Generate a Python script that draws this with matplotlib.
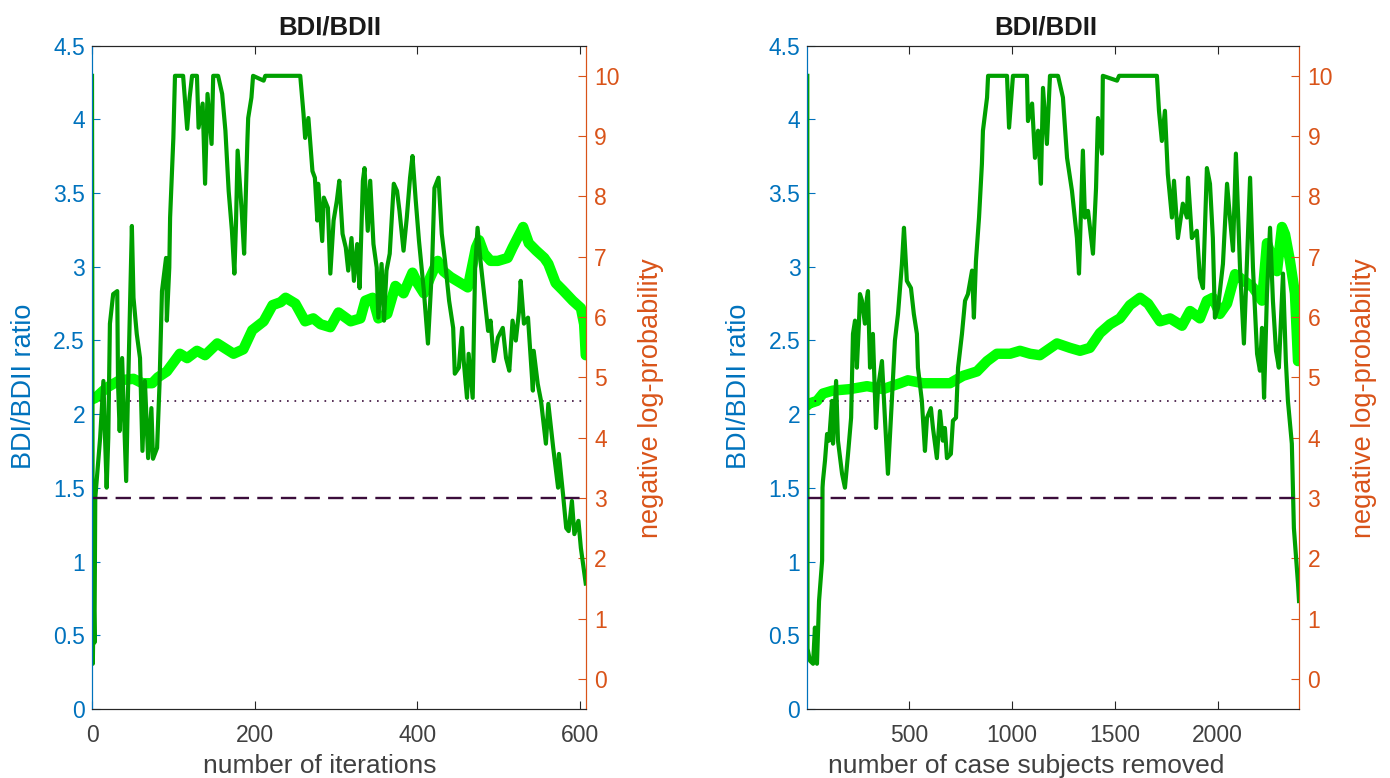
import numpy as np
import matplotlib
matplotlib.use("Agg")
import matplotlib.pyplot as plt

plt.rcParams['font.family'] = ['Liberation Sans', 'DejaVu Sans']

# left panel: x = number of iterations
iter_x_neglogp = [0, 1, 2, 3, 4, 7, 10, 14, 16, 18, 20, 22, 26, 31, 32, 34, 37, 42, 44, 49,
                  51, 55, 59, 62, 65, 69, 73, 75, 80, 83, 86, 91, 92, 95, 96, 100, 102, 108,
                  112, 117, 120, 123, 129, 131, 136, 139, 142, 147, 149, 155, 160, 164, 168,
                  172, 175, 177, 179, 184, 187, 191, 192, 196, 198, 211, 213, 256, 260, 262,
                  266, 271, 274, 277, 278, 283, 285, 290, 293, 297, 301, 304, 308, 312, 315,
                  319, 322, 326, 329, 333, 335, 339, 342, 346, 350, 352, 356, 359, 362, 366,
                  371, 375, 378, 383, 387, 391, 394, 398, 402, 408, 413, 418, 421, 426, 430,
                  434, 439, 444, 446, 451, 455, 457, 461, 463, 468, 471, 474, 478, 487, 490,
                  494, 499, 505, 509, 513, 517, 521, 525, 527, 531, 536, 542, 543, 548, 552,
                  558, 561, 567, 573, 574, 579, 583, 586, 590, 593, 598, 601, 607]
iter_neglogp = [10, 0.25, 1.4, 0.6, 3.0, 3.5, 4.0, 4.94, 4.0, 3.17, 4.0, 5.89, 6.38, 6.43, 4.89,
                4.11, 5.32, 3.28, 4.61, 7.51, 6.32, 5.72, 5.32, 3.78, 4.94, 3.66, 4.49, 3.65,
                3.83, 4.89, 6.43, 6.98, 5.94, 6.82, 7.65, 8.97, 10, 10, 10, 9.12, 9.64, 10, 10,
                9.14, 9.54, 8.21, 9.70, 8.87, 10, 10, 9.70, 9.09, 8.09, 7.43, 6.72, 7.55, 8.76,
                7.76, 7.05, 8.92, 9.30, 9.64, 10, 9.92, 10, 10, 9.37, 8.97, 9.30, 8.42, 8.31,
                7.60, 8.21, 7.26, 7.98, 7.81, 6.72, 7.60, 7.93, 8.26, 7.38, 7.15, 6.77, 7.31,
                6.60, 7.21, 6.48, 8.26, 8.47, 7.43, 8.26, 7.21, 6.82, 5.99, 6.88, 5.94, 6.77,
                7.05, 8.21, 8.09, 7.76, 7.10, 7.65, 8.31, 8.67, 7.93, 7.26, 6.43, 5.56, 6.82,
                8.14, 8.31, 7.38, 6.93, 6.27, 5.82, 5.06, 5.16, 5.82, 5.27, 4.66, 5.39, 4.66,
                6.82, 7.48, 6.88, 5.77, 5.94, 5.27, 5.66, 5.82, 5.32, 5.11, 5.94, 5.61, 6.10,
                6.60, 5.89, 5.99, 4.78, 5.44, 4.89, 4.61, 3.90, 4.56, 3.83, 3.17, 3.73, 3.07,
                2.50, 2.45, 2.95, 2.40, 2.62, 2.17, 1.58]
iter_x_ratio = [0, 4, 18, 34, 51, 62, 74, 81, 92, 108, 117, 129, 139, 154, 174, 186, 197, 211,
                222, 232, 238, 250, 262, 272, 281, 293, 303, 318, 330, 336, 345, 352, 363, 373,
                383, 394, 400, 408, 416, 425, 432, 441, 453, 462, 472, 476, 482, 490, 499, 511,
                517, 530, 537, 546, 556, 561, 570, 579, 591, 601, 605, 607]
iter_ratio = [2.10, 2.11, 2.18, 2.23, 2.24, 2.21, 2.21, 2.25, 2.29, 2.41, 2.38, 2.43, 2.40, 2.48,
              2.41, 2.44, 2.57, 2.63, 2.74, 2.76, 2.79, 2.75, 2.63, 2.65, 2.61, 2.59, 2.69, 2.63,
              2.65, 2.77, 2.79, 2.65, 2.68, 2.87, 2.82, 2.96, 2.89, 2.82, 2.93, 3.04, 2.97, 2.93,
              2.89, 2.86, 3.13, 3.18, 3.09, 3.04, 3.04, 3.06, 3.13, 3.27, 3.16, 3.11, 3.06, 3.02,
              2.89, 2.84, 2.77, 2.72, 2.61, 2.40]

# right panel: x = number of case subjects removed
rem_x_neglogp = [4, 5, 17, 32, 41, 51, 61, 76, 78, 80, 90, 100, 110, 124, 129, 144, 153, 173,
                 187, 202, 217, 226, 236, 245, 255, 260, 270, 284, 294, 299, 309, 323, 338, 348,
                 367, 382, 396, 415, 430, 445, 464, 474, 488, 508, 522, 537, 542, 561, 576, 586,
                 605, 615, 634, 649, 663, 673, 683, 702, 712, 727, 737, 756, 771, 785, 805, 814,
                 824, 839, 853, 858, 878, 883, 975, 985, 1004, 1072, 1077, 1097, 1111, 1126,
                 1140, 1150, 1169, 1184, 1223, 1247, 1267, 1291, 1315, 1325, 1344, 1354, 1369,
                 1393, 1408, 1417, 1437, 1441, 1510, 1520, 1704, 1714, 1728, 1743, 1757, 1777,
                 1787, 1806, 1830, 1850, 1855, 1874, 1898, 1913, 1928, 1947, 1962, 1976, 1986,
                 2001, 2025, 2045, 2059, 2074, 2088, 2108, 2127, 2142, 2157, 2171, 2191, 2205,
                 2215, 2225, 2239, 2254, 2268, 2283, 2297, 2317, 2331, 2341, 2360, 2370, 2390,
                 2395]
rem_neglogp = [10, 0.5, 0.30, 0.25, 0.85, 0.25, 1.29, 1.96, 3.17, 3.28, 3.62, 4.06, 3.95, 4.61,
               3.90, 4.94, 3.95, 3.40, 3.17, 3.73, 4.33, 5.72, 5.94, 5.16, 5.89, 6.38, 6.27, 5.89,
               6.32, 6.43, 5.16, 5.72, 4.16, 4.83, 5.27, 4.28, 3.40, 4.61, 5.61, 6.05, 6.88, 7.48,
               6.60, 6.48, 6.05, 5.72, 5.16, 4.61, 3.78, 4.33, 4.49, 4.16, 3.66, 4.44, 3.95, 4.16,
               3.66, 3.73, 4.28, 4.33, 5.16, 5.72, 6.27, 6.38, 6.77, 5.99, 6.93, 7.65, 8.54, 9.09,
               9.64, 10, 10, 9.14, 10, 10, 9.25, 9.54, 8.64, 9.09, 8.21, 9.80, 8.87, 10, 10, 9.64,
               8.64, 8.09, 7.31, 6.72, 8.76, 7.65, 7.76, 7.05, 8.14, 9.30, 8.71, 10, 9.92, 10, 10,
               9.42, 8.92, 9.42, 8.37, 7.65, 8.26, 7.31, 7.88, 7.65, 8.31, 7.31, 7.43, 6.65, 6.48,
               8.47, 8.21, 7.31, 5.99, 6.15, 6.88, 8.21, 7.65, 7.10, 8.71, 6.82, 5.56, 6.93, 8.31,
               6.82, 5.39, 5.11, 5.82, 4.66, 6.38, 7.48, 6.27, 5.44, 5.16, 6.72, 5.27, 4.61, 3.90,
               2.50, 1.58, 1.29]
rem_x_ratio = [4, 8, 51, 80, 128, 211, 294, 372, 455, 493, 566, 634, 698, 761, 829, 878, 926,
               990, 1038, 1087, 1135, 1218, 1281, 1330, 1378, 1427, 1476, 1524, 1573, 1622, 1661,
               1719, 1768, 1826, 1865, 1913, 1947, 1976, 2010, 2045, 2084, 2123, 2171, 2215, 2239,
               2288, 2312, 2327, 2351, 2375, 2390]
rem_ratio = [2.06, 2.07, 2.09, 2.14, 2.16, 2.17, 2.19, 2.17, 2.21, 2.23, 2.21, 2.21, 2.21, 2.26,
             2.29, 2.36, 2.41, 2.41, 2.43, 2.41, 2.40, 2.48, 2.45, 2.43, 2.45, 2.55, 2.61, 2.65,
             2.74, 2.79, 2.75, 2.63, 2.65, 2.60, 2.70, 2.65, 2.77, 2.79, 2.68, 2.75, 2.95, 2.91,
             2.86, 2.77, 3.16, 2.97, 3.27, 3.22, 3.04, 2.82, 2.36]

ratio_ref = 2.09      # dotted line, left axis
neglogp_ref = 3.0     # dashed line, right axis

blue = '#0072BD'
orange = '#D95319'
grey = '#262626'
tick_grey = '#404040'
light_green = '#00FF00'
dark_green = '#00A000'
purple = '#3B0D3B'

fig = plt.figure(figsize=(13.9, 7.78), dpi=100)

# rect, data..., xlim, xticks, xlabel, (xlabel x, title x, left ylabel y, right ylabel y)
panels = [
    ([0.0662, 0.0887, 0.3552, 0.8526], iter_x_ratio, iter_ratio, iter_x_neglogp, iter_neglogp,
     (0, 607), [0, 200, 400, 600], 'number of iterations', (0.462, 0.482, 0.486, 0.469)),
    ([0.5808, 0.0887, 0.3539, 0.8526], rem_x_ratio, rem_ratio, rem_x_neglogp, rem_neglogp,
     (4, 2396), [500, 1000, 1500, 2000], 'number of case subjects removed',
     (0.445, 0.484, 0.486, 0.469)),
]

for rect, xr, yr, xn, yn, xlim, xticks, xlabel, lpos in panels:
    ax = fig.add_axes(rect)
    ax2 = ax.twinx()

    ax.plot(xr, yr, color=light_green, lw=7.5, solid_capstyle='round', solid_joinstyle='round')
    ax.axhline(ratio_ref, color=purple, lw=1.2, ls=(0, (1, 3.5)))
    ax2.plot(xn, yn, color=dark_green, lw=3, solid_joinstyle='round')
    ax2.axhline(neglogp_ref, color=purple, lw=1.7, ls=(0, (6.5, 3.5)))

    ax.set_xlim(*xlim)
    ax.set_ylim(0, 4.5)
    ax2.set_ylim(-0.5, 10.5)
    ax.set_xticks(xticks)
    ax.set_yticks(np.arange(0, 4.51, 0.5))
    ax.set_yticklabels(['0', '0.5', '1', '1.5', '2', '2.5', '3', '3.5', '4', '4.5'])
    ax2.set_yticks(range(0, 11))

    ax.tick_params(axis='x', direction='in', top=True, colors=grey, labelcolor=tick_grey,
                   labelsize=16.5, length=6, width=0.8, pad=11)
    ax.tick_params(axis='y', direction='in', colors=blue, labelsize=16.5,
                   length=6, width=0.8, pad=5)
    ax2.tick_params(axis='y', direction='in', colors=orange, labelsize=16.5,
                    length=6, width=0.8, pad=6)

    for a in (ax, ax2):
        a.spines['top'].set_color(grey)
        a.spines['bottom'].set_color(grey)
        a.spines['left'].set_color(blue)
        a.spines['right'].set_color(orange)
        for s in a.spines.values():
            s.set_linewidth(0.8)

    ax.set_xlabel(xlabel, fontsize=19, color=tick_grey, labelpad=4.5)
    ax.set_ylabel('BDI/BDII ratio', fontsize=19.5, color=blue, labelpad=12)
    ax2.set_ylabel('negative log-probability', fontsize=19.5, color=orange, labelpad=13)
    ax.set_title('BDI/BDII', fontsize=18.5, fontweight='bold', color='#1a1a1a', pad=8)

    ax.xaxis.label.set_x(lpos[0])
    ax.title.set_x(lpos[1])
    ax.yaxis.label.set_y(lpos[2])
    ax2.yaxis.label.set_y(lpos[3])

fig.savefig('out.png', dpi=100)
